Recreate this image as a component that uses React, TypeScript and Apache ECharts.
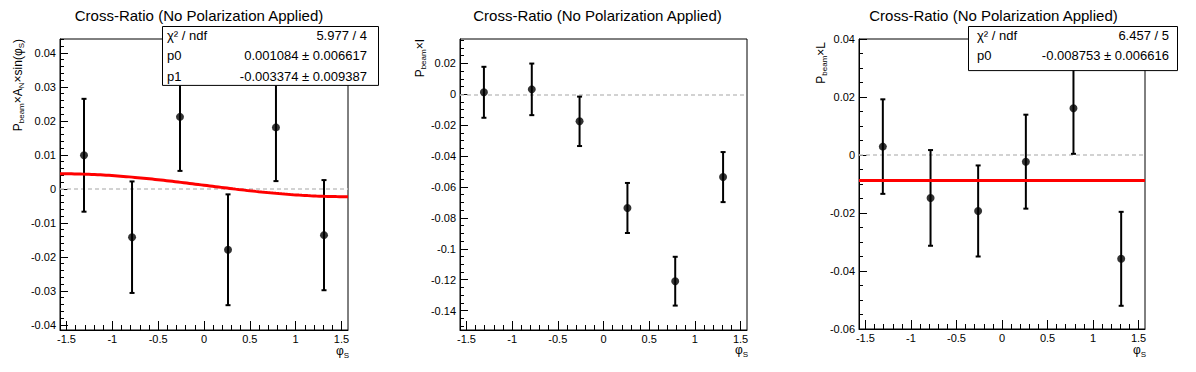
import React, { useEffect, useRef } from 'react';
import * as echarts from 'echarts';

// bin centres in phi_S
const phiS = [-1.309, -0.785, -0.262, 0.262, 0.785, 1.309];

// panel 1: P_beam x A_N x sin(phi_S)
const anVal = [0.0099, -0.0142, 0.0212, -0.0179, 0.0181, -0.0136];
const anErr = [0.0166, 0.0164, 0.0159, 0.0163, 0.0158, 0.0162];

// panel 2: P_beam x I
const iVal = [0.0013, 0.0032, -0.0175, -0.0736, -0.1210, -0.0536];
const iErr = [0.0165, 0.0167, 0.0160, 0.0162, 0.0158, 0.0162];

// panel 3: P_beam x L
const lVal = [0.0029, -0.0148, -0.0193, -0.0023, 0.0161, -0.0358];
const lErr = [0.0163, 0.0165, 0.0157, 0.0162, 0.0157, 0.0162];

// fit results (from the stat boxes)
const fitAN_p0 = 0.001084;
const fitAN_p1 = -0.003374;
const fitL_p0 = -0.008753;

// tick labels
const xTicks = [-1.5, -1, -0.5, 0, 0.5, 1, 1.5];
const yTicksAN = [-0.04, -0.03, -0.02, -0.01, 0, 0.01, 0.02, 0.03, 0.04];
const yTicksI = [-0.14, -0.12, -0.1, -0.08, -0.06, -0.04, -0.02, 0, 0.02];
const yTicksL = [-0.06, -0.04, -0.02, 0, 0.02, 0.04];

const statsAN = [
  ['χ² / ndf', '5.977 / 4'],
  ['p0', '0.001084 ± 0.006617'],
  ['p1', '-0.003374 ± 0.009387'],
];
const statsL = [
  ['χ² / ndf', '6.457 / 5'],
  ['p0', '-0.008753 ± 0.006616'],
];

const title = 'Cross-Ratio (No Polarization Applied)';
const FONT = '"Liberation Sans", Arial, Helvetica, sans-serif';
const HALF_PI = Math.PI / 2;

const grids = [
  { left: 60, top: 39, width: 288, height: 291 },
  { left: 460, top: 39, width: 287, height: 291 },
  { left: 859, top: 39, width: 286, height: 290 },
];
const yRanges = [
  { min: -0.0415, max: 0.0441, ticks: yTicksAN, minorStep: 0.002 },
  { min: -0.1526, max: 0.0358, ticks: yTicksI, minorStep: 0.005 },
  { min: -0.06, max: 0.04, ticks: yTicksL, minorStep: 0.005 },
];

function fmt(v: number) {
  const r = Math.round(v * 1e6) / 1e6;
  return String(r);
}

function minorValues(min: number, max: number, step: number) {
  const out: number[] = [];
  const start = Math.ceil(min / step - 1e-9);
  const end = Math.floor(max / step + 1e-9);
  for (let k = start; k <= end; k++) out.push(Math.round(k * step * 1e6) / 1e6);
  return out;
}

function errSeries(gi: number, vals: number[], errs: number[]) {
  return {
    type: 'custom',
    xAxisIndex: gi,
    yAxisIndex: gi,
    clip: true,
    z: 3,
    data: phiS.map((x, i) => [x, vals[i] - errs[i], vals[i] + errs[i]]),
    renderItem: (params: any, api: any) => {
      const x = api.value(0);
      const lo = api.coord([x, api.value(1)]);
      const hi = api.coord([x, api.value(2)]);
      const cw = 2.5;
      const st = { stroke: '#000', lineWidth: 2 };
      return {
        type: 'group',
        children: [
          { type: 'line', shape: { x1: lo[0], y1: lo[1], x2: hi[0], y2: hi[1] }, style: st },
          { type: 'line', shape: { x1: lo[0] - cw, y1: lo[1], x2: lo[0] + cw, y2: lo[1] }, style: st },
          { type: 'line', shape: { x1: hi[0] - cw, y1: hi[1], x2: hi[0] + cw, y2: hi[1] }, style: st },
        ],
      };
    },
  };
}

function pointSeries(gi: number, vals: number[]) {
  return {
    type: 'scatter',
    xAxisIndex: gi,
    yAxisIndex: gi,
    symbol: 'circle',
    symbolSize: 8,
    itemStyle: { color: '#000' },
    z: 4,
    data: phiS.map((x, i) => [x, vals[i]]),
    markLine: {
      silent: true,
      symbol: 'none',
      label: { show: false },
      lineStyle: { color: '#c4c4c4', type: [4, 3], width: 1.5 },
      data: [{ yAxis: 0 }],
      z: 1,
    },
  };
}

function stepsX(n: number) {
  const xs: number[] = [];
  for (let i = 0; i <= n; i++) xs.push(-HALF_PI + (Math.PI * i) / n);
  return xs;
}

function yTitle(x: number, y: number, parts: [string, boolean][]) {
  const text = parts.map(([t, sub]) => `{${sub ? 's' : 'n'}|${t}}`).join('');
  return {
    type: 'text',
    x,
    y,
    rotation: HALF_PI,
    z: 100,
    style: {
      text,
      align: 'right',
      textAlign: 'right',
      verticalAlign: 'middle',
      textVerticalAlign: 'middle',
      fill: '#000',
      rich: {
        n: { fontSize: 12, fontFamily: FONT, fill: '#000', lineHeight: 16 },
        s: { fontSize: 8, fontFamily: FONT, fill: '#000', lineHeight: 16, padding: [7, 0, 0, 0] },
      },
    },
  };
}

function xTitle(x: number, y: number) {
  return {
    type: 'text',
    x,
    y,
    z: 100,
    style: {
      text: '{n|φ}{s|S}',
      align: 'right',
      textAlign: 'right',
      verticalAlign: 'middle',
      textVerticalAlign: 'middle',
      rich: {
        n: { fontSize: 12, fontFamily: FONT, fill: '#000', lineHeight: 16 },
        s: { fontSize: 8, fontFamily: FONT, fill: '#000', lineHeight: 16, padding: [8, 0, 0, 0] },
      },
    },
  };
}

function statBox(x: number, y: number, w: number, rows: string[][], padL: number, padR: number) {
  const rowH = 20.3;
  const h = rows.length * rowH - (rows.length === 2 ? -3.5 : 2);
  const children: any[] = [
    { type: 'rect', shape: { x: x + 0.5, y: y + 0.5, width: w, height: h }, style: { fill: '#fff', stroke: '#000', lineWidth: 1 }, z: 100 },
  ];
  rows.forEach((r, i) => {
    const cy = y + 9.5 + i * rowH;
    children.push({
      type: 'text', x: x + padL, y: cy, z: 101,
      style: { text: r[0], fontSize: 13, fontFamily: FONT, fill: '#000', align: 'left', textAlign: 'left', verticalAlign: 'middle', textVerticalAlign: 'middle' },
    });
    children.push({
      type: 'text', x: x + w - padR, y: cy, z: 101,
      style: { text: r[1], fontSize: 13, fontFamily: FONT, fill: '#000', align: 'right', textAlign: 'right', verticalAlign: 'middle', textVerticalAlign: 'middle' },
    });
  });
  return children;
}

export default function App() {
  const ref = useRef<HTMLDivElement>(null);
  useEffect(() => {
    if (!ref.current) return;
    const chart = echarts.init(ref.current, undefined, { renderer: 'svg' });

    const fitXs = stepsX(100);
    const anFit = fitXs.map((x) => [x, fitAN_p0 + fitAN_p1 * Math.sin(x)]);
    const lFit = [[-HALF_PI, fitL_p0], [HALF_PI, fitL_p0]];

    const xMinor = minorValues(-HALF_PI, HALF_PI, 0.1);

    const xMain = grids.map((_, gi) => ({
      type: 'value',
      gridIndex: gi,
      position: 'bottom',
      min: -HALF_PI,
      max: HALF_PI,
      axisLine: { show: true, onZero: false, lineStyle: { color: '#000', width: 1 } },
      axisTick: { show: true, inside: true, length: 9, customValues: xTicks, lineStyle: { color: '#000', width: 1 } },
      minorTick: { show: false },
      splitLine: { show: false },
      axisLabel: {
        color: '#000', fontSize: 11, fontFamily: FONT, margin: 3,
        customValues: xTicks,
        formatter: (v: number) => fmt(v),
      },
    }));
    const xMinorAxes = grids.map((_, gi) => ({
      type: 'value',
      gridIndex: gi,
      position: 'bottom',
      offset: 0,
      min: -HALF_PI,
      max: HALF_PI,
      axisLine: { show: false, onZero: false },
      axisTick: { show: true, inside: true, length: 5, customValues: xMinor, lineStyle: { color: '#000', width: 1 } },
      axisLabel: { show: false },
      splitLine: { show: false },
    }));
    const yMain = yRanges.map((r, gi) => ({
      type: 'value',
      gridIndex: gi,
      position: 'left',
      min: r.min,
      max: r.max,
      axisLine: { show: true, onZero: false, lineStyle: { color: '#000', width: 1 } },
      axisTick: { show: true, inside: true, length: 8, customValues: r.ticks, lineStyle: { color: '#000', width: 1 } },
      minorTick: { show: false },
      splitLine: { show: false },
      axisLabel: {
        color: '#000', fontSize: 11, fontFamily: FONT, margin: 4,
        customValues: r.ticks,
        formatter: (v: number) => fmt(v),
      },
    }));
    const yMinorAxes = yRanges.map((r, gi) => ({
      type: 'value',
      gridIndex: gi,
      position: 'left',
      offset: 0,
      min: r.min,
      max: r.max,
      axisLine: { show: false, onZero: false },
      axisTick: { show: true, inside: true, length: 4, customValues: minorValues(r.min, r.max, r.minorStep), lineStyle: { color: '#000', width: 1 } },
      axisLabel: { show: false },
      splitLine: { show: false },
    }));

    const graphics: any[] = [];
    [199, 597.5, 993.5].forEach((cx) => {
      graphics.push({
        type: 'text', x: cx, y: 15, z: 100,
        style: { text: title, fontSize: 15, fontFamily: FONT, fill: '#000', align: 'center', textAlign: 'center', verticalAlign: 'middle', textVerticalAlign: 'middle' },
      });
    });
    graphics.push(yTitle(18, 39, [['P', false], ['beam', true], ['×A', false], ['N', true], ['×sin(φ', false], ['S', true], [')', false]]));
    graphics.push(yTitle(420, 39, [['P', false], ['beam', true], ['×I', false]]));
    graphics.push(yTitle(821, 42, [['P', false], ['beam', true], ['×L', false]]));
    graphics.push(xTitle(349, 351));
    graphics.push(xTitle(748, 350));
    graphics.push(xTitle(1146, 350));
    graphics.push(...statBox(162, 26, 216, statsAN, 5, 11));
    graphics.push(...statBox(968, 26, 209, statsL, 9, 8));

    chart.setOption({
      animation: false,
      backgroundColor: '#fff',
      grid: grids.map((g) => ({ ...g, show: true, borderColor: '#000', borderWidth: 1, backgroundColor: 'transparent', containLabel: false })),
      xAxis: [...xMain, ...xMinorAxes],
      yAxis: [...yMain, ...yMinorAxes],
      series: [
        errSeries(0, anVal, anErr),
        pointSeries(0, anVal),
        {
          type: 'line', xAxisIndex: 0, yAxisIndex: 0, data: anFit, showSymbol: false, symbol: 'none',
          lineStyle: { color: '#ff0000', width: 3 }, z: 5, clip: true,
        },
        errSeries(1, iVal, iErr),
        pointSeries(1, iVal),
        errSeries(2, lVal, lErr),
        pointSeries(2, lVal),
        {
          type: 'line', xAxisIndex: 2, yAxisIndex: 2, data: lFit, showSymbol: false, symbol: 'none',
          lineStyle: { color: '#ff0000', width: 3 }, z: 5, clip: true,
        },
      ],
      graphic: graphics,
    });
    return () => chart.dispose();
  }, []);
  return <div ref={ref} style={{ position: 'absolute', left: 0, top: 0, width: 1196, height: 372 }} />;
}
